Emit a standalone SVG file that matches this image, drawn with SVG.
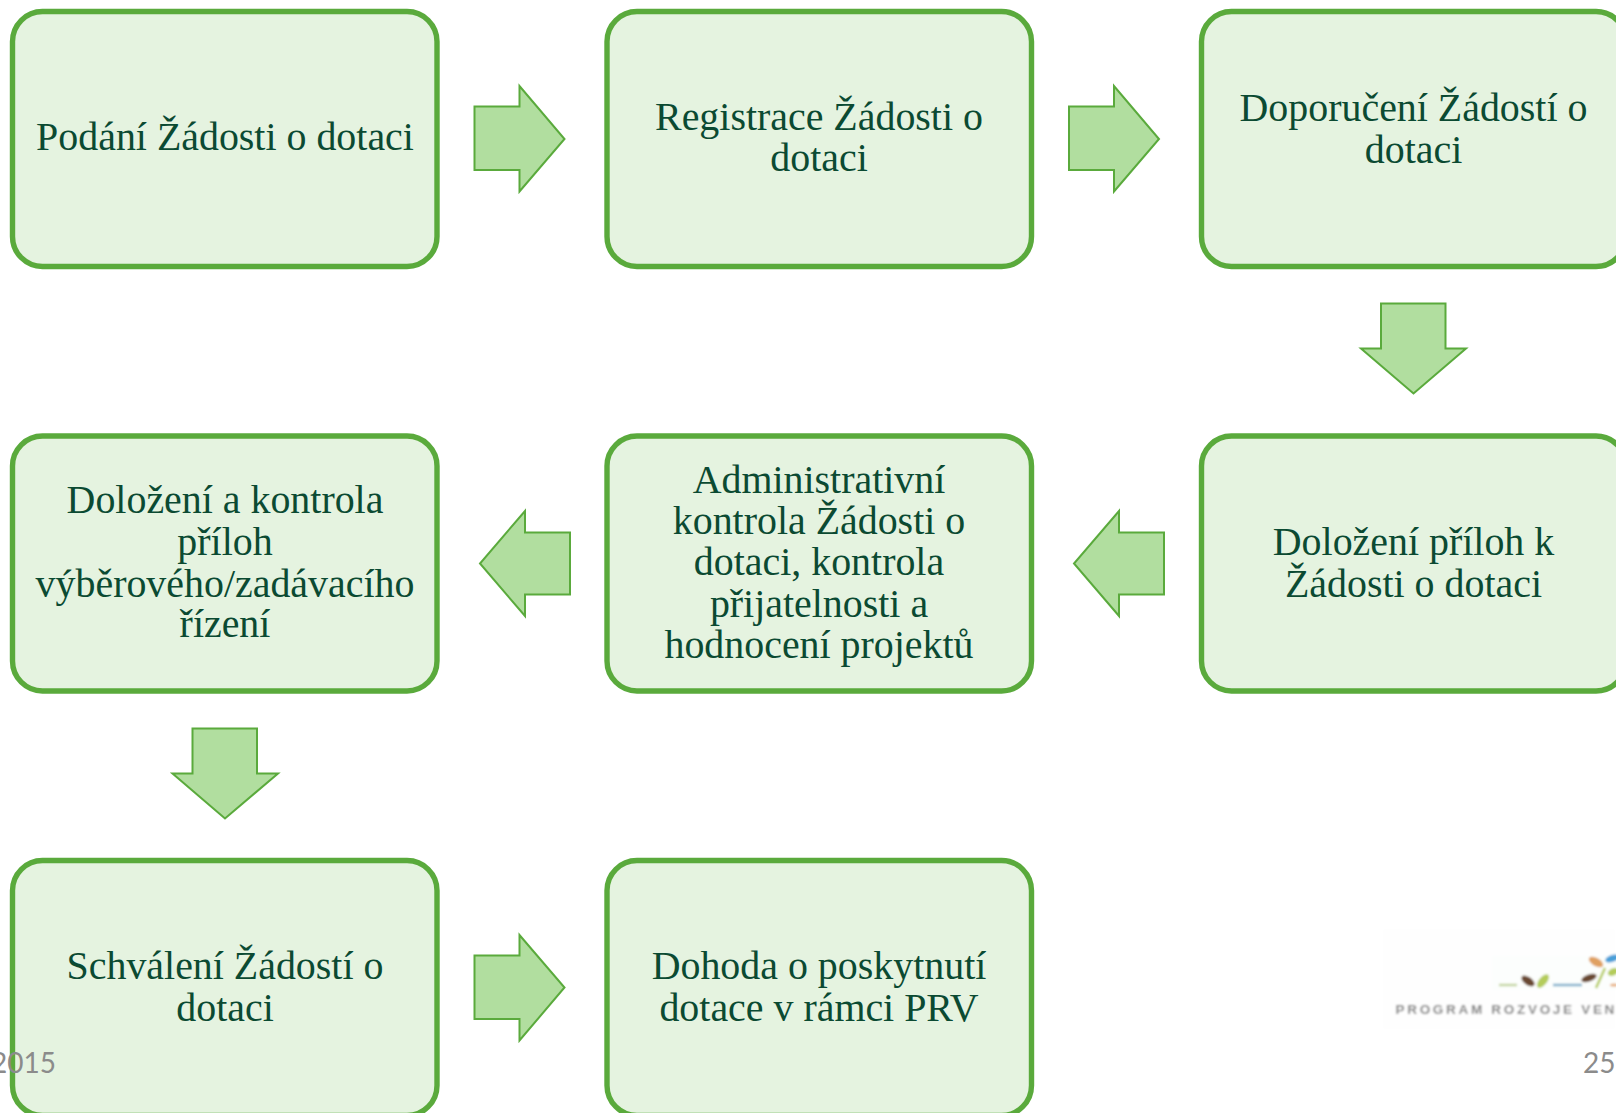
<svg xmlns="http://www.w3.org/2000/svg" width="1616" height="1113" viewBox="0 0 1616 1113">
<style>
.box{fill:#e5f3e0;stroke:#5aaa3c;stroke-width:5.400}
.arr{fill:#b1de9f;stroke:#5aaa3c;stroke-width:2}
.t{font-family:"Liberation Serif","Times New Roman",serif;font-size:39.900px;fill:#0b4a32;text-anchor:middle}
.f{font-family:Lato,"Liberation Sans",Arial,sans-serif;font-size:28px;fill:#8b8b8b;text-anchor:end}
</style>
<defs>
<filter id="bl" x="-20%" y="-20%" width="140%" height="140%"><feGaussianBlur stdDeviation="0.8"/></filter>
</defs>
<rect width="1616" height="1113" fill="#ffffff"/>
<g id="logo" filter="url(#bl)">
<rect x="1382" y="928" width="234" height="102" fill="#fefefe"/>
<rect x="1492" y="956" width="124" height="34" fill="#fcfefd"/>
<path d="M1499 985H1517" stroke="#c5d6a0" stroke-width="2.500" fill="none"/>
<path d="M1553 985H1582" stroke="#7fb0cc" stroke-width="2.500" fill="none"/>
<ellipse cx="1528" cy="981" rx="7.500" ry="4" transform="rotate(35 1528 981)" fill="#6b4a30"/>
<ellipse cx="1543" cy="981" rx="8" ry="4" transform="rotate(-50 1543 981)" fill="#b4cc5a"/>
<ellipse cx="1589" cy="978" rx="8" ry="3.500" transform="rotate(-20 1589 978)" fill="#6b4a30"/>
<ellipse cx="1596" cy="962" rx="8" ry="4" transform="rotate(30 1596 962)" fill="#e0a060"/>
<ellipse cx="1612" cy="958.500" rx="7" ry="3.500" transform="rotate(-20 1612 958.500)" fill="#4a9fd8"/>
<path d="M1605 968L1596 988" stroke="#b4cc5a" stroke-width="2.500" fill="none"/>
<ellipse cx="1613" cy="972" rx="5.500" ry="3.500" transform="rotate(-25 1613 972)" fill="#b4cc5a"/>
<ellipse cx="1614" cy="985" rx="4" ry="1.500" fill="#e8b080"/>
<text x="1395.500" y="1014" font-family="'Liberation Sans',Arial,sans-serif" font-size="13.500" font-weight="bold" letter-spacing="2.700" fill="#808080" xml:space="preserve">PROGRAM ROZVOJE VEN</text>
</g>
<g id="connectors">
<path class="arr" d="M474.500 106.500H519.500V86L564.500 139L519.500 191.500V170H474.500Z"/>
<path class="arr" d="M1069 106.500H1114V86L1159 139L1114 191.500V170H1069Z"/>
<path class="arr" d="M1381 303.500H1445.500V348.500H1466L1413.500 393.500L1361 348.500H1381Z"/>
<path class="arr" d="M1164 532.500H1119V511L1074 563.500L1119 616V594.500H1164Z"/>
<path class="arr" d="M570 532.500H525V511L480 563.500L525 616V594.500H570Z"/>
<path class="arr" d="M192.500 728.500H257V773.500H278L225 818.500L172.500 773.500H192.500Z"/>
<path class="arr" d="M474.500 955.500H519.500V935L564.500 987.500L519.500 1040.500V1019H474.500Z"/>
</g>
<g id="n1"><rect class="box" x="12.500" y="11.500" width="424.500" height="255" rx="30"/><text class="t" x="225" y="150">Podání Žádosti o dotaci</text></g>
<g id="n2"><rect class="box" x="607" y="11.500" width="424.500" height="255" rx="30"/><text class="t" x="819" y="130">Registrace Žádosti o</text><text class="t" x="819" y="171">dotaci</text></g>
<g id="n3"><rect class="box" x="1201.500" y="11.500" width="424.500" height="255" rx="30"/><text class="t" x="1413.500" y="121">Doporučení Žádostí o</text><text class="t" x="1413.500" y="163">dotaci</text></g>
<g id="n4"><rect class="box" x="1201.500" y="436" width="424.500" height="255" rx="30"/><text class="t" x="1413.500" y="555">Doložení příloh k</text><text class="t" x="1413.500" y="596.500">Žádosti o dotaci</text></g>
<g id="n5"><rect class="box" x="607" y="436" width="424.500" height="255" rx="30"/><text class="t" x="819" y="493">Administrativní</text><text class="t" x="819" y="534">kontrola Žádosti o</text><text class="t" x="819" y="575">dotaci, kontrola</text><text class="t" x="819" y="617">přijatelnosti a</text><text class="t" x="819" y="658">hodnocení projektů</text></g>
<g id="n6"><rect class="box" x="12.500" y="436" width="424.500" height="255" rx="30"/><text class="t" x="225" y="513">Doložení a kontrola</text><text class="t" x="225" y="555">příloh</text><text class="t" x="225" y="596.500">výběrového/zadávacího</text><text class="t" x="225" y="637">řízení</text></g>
<g id="n7"><rect class="box" x="12.500" y="860.500" width="424.500" height="255" rx="30"/><text class="t" x="225" y="979">Schválení Žádostí o</text><text class="t" x="225" y="1021">dotaci</text></g>
<g id="n8"><rect class="box" x="607" y="860.500" width="424.500" height="255" rx="30"/><text class="t" x="819" y="979">Dohoda o poskytnutí</text><text class="t" x="819" y="1021">dotace v rámci PRV</text></g>
<text class="f" x="56" y="1073">2015</text>
<text class="f" x="1615.500" y="1073">25</text>
</svg>
